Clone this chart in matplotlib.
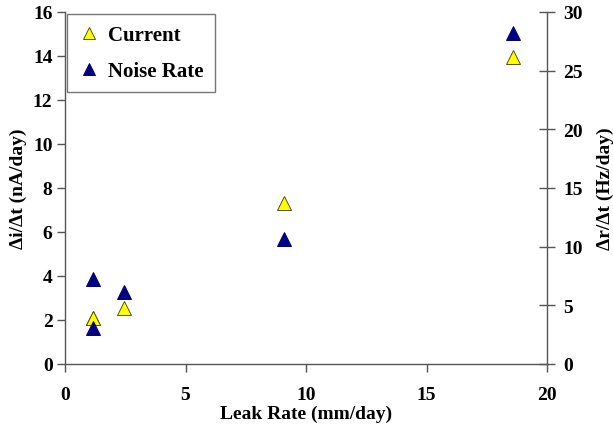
import matplotlib
matplotlib.use("Agg")
import matplotlib.pyplot as plt
from matplotlib.lines import Line2D

leak_current = [1.18, 1.18, 2.43, 9.1, 18.6]
current = [2.1, 2.1, 2.55, 7.3, 13.95]
leak_noise = [1.18, 1.18, 2.43, 9.1, 18.6]
noise = [7.25, 3.1, 6.1, 10.65, 28.2]

plt.rcParams['font.family'] = ['Liberation Serif', 'DejaVu Serif']
plt.rcParams['font.weight'] = 'bold'

fig = plt.figure(figsize=(6.13, 4.27), dpi=100)
ax = fig.add_axes([65/613, 1-365/427, (547-65)/613, (365-13)/427])
ax2 = ax.twinx()

gray = '#555555'
ax.plot(leak_current, current, linestyle='none', marker='^', markersize=9.5,
        markerfacecolor='#FFFF00', markeredgecolor='#555500', markeredgewidth=0.7, zorder=3)
ax2.plot(leak_noise, noise, linestyle='none', marker='^', markersize=9.5,
         markerfacecolor='#000080', markeredgecolor='#000080', markeredgewidth=0.7, zorder=3)

ax.set_xlim(0, 20)
ax.set_ylim(0, 16)
ax2.set_ylim(0, 30)
ax.set_xticks([0, 5, 10, 15, 20])
ax.set_yticks(range(0, 17, 2))
ax2.set_yticks(range(0, 31, 5))

for a in (ax, ax2):
    a.spines['top'].set_visible(False)
    for s in a.spines.values():
        s.set_color(gray)
        s.set_linewidth(1.0)
ax2.spines['left'].set_visible(False)
ax.spines['right'].set_visible(False)
ax2.spines['bottom'].set_visible(False)

ax.tick_params(axis='both', direction='out', length=6, color=gray, labelsize=14, width=1)
ax.tick_params(axis='y', pad=3)
ax.tick_params(axis='x', pad=10)
ax2.tick_params(axis='y', direction='inout', length=11, color=gray, labelsize=14, width=1, pad=6)
for lab in ax.get_xticklabels() + ax.get_yticklabels() + ax2.get_yticklabels():
    lab.set_fontweight('bold')

ax.set_xlabel('Leak Rate (mm/day)', fontsize=14, fontweight='bold', labelpad=1)
ax.set_ylabel('Δi/Δt (nA/day)', fontsize=14, fontweight='bold', labelpad=4)
ax2.set_ylabel('Δr/Δt (Hz/day)', fontsize=14, fontweight='bold', labelpad=10)

handles = [
    Line2D([], [], linestyle='none', marker='^', markersize=8, markerfacecolor='#FFFF00',
           markeredgecolor='#555500', markeredgewidth=0.7, label='Current'),
    Line2D([], [], linestyle='none', marker='^', markersize=8, markerfacecolor='#000080',
           markeredgecolor='#000080', markeredgewidth=0.7, label='Noise Rate'),
]
leg = ax2.legend(handles=handles, loc='upper left', bbox_to_anchor=(0.004, 0.995),
                 prop={'weight': 'bold', 'size': 15}, frameon=True, fancybox=False,
                 edgecolor=gray, borderpad=0.55, labelspacing=0.75, handlelength=1.0,
                 handletextpad=0.4, borderaxespad=0)
leg.get_frame().set_linewidth(1.0)

fig.savefig('out.png', dpi=100)
